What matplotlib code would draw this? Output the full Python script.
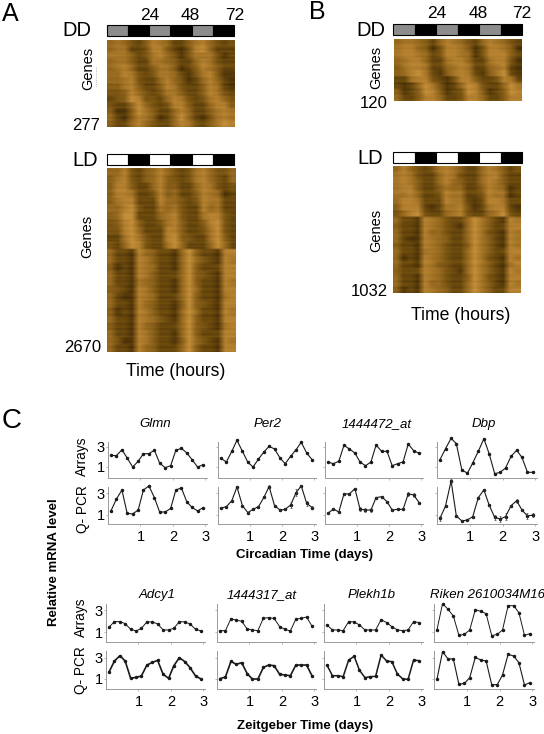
import numpy as np
import matplotlib
matplotlib.use("Agg")
import matplotlib.pyplot as plt
from matplotlib.colors import LinearSegmentedColormap
from matplotlib.lines import Line2D

plt.rcParams['font.family'] = ['Liberation Sans', 'DejaVu Sans']

W, H = 544, 734

# time of each sample, in days
DAYS = [0.09, 0.26, 0.43, 0.59, 0.76, 0.93, 1.09, 1.26, 1.43, 1.59, 1.76, 1.93,
        2.09, 2.26, 2.43, 2.59, 2.76, 2.93]

# circadian, arrays
GLMN_ARR = [2.17, 2.13, 2.73, 1.9, 1.0, 1.57, 2.33, 2.33, 2.67, 1.4, 0.93, 1.13, 2.67, 2.87, 2.4, 1.73, 1.0, 1.23]
PER2_ARR = [1.87, 1.5, 2.57, 3.67, 2.57, 1.47, 1.0, 1.8, 2.5, 3.07, 2.8, 1.9, 1.33, 2.07, 2.73, 3.47, 2.4, 1.73]
AT472_ARR = [1.5, 1.33, 1.57, 3.17, 2.8, 2.4, 1.5, 1.13, 1.5, 3.2, 2.57, 2.57, 1.13, 1.33, 1.5, 3.3, 2.63, 2.37]
DBP_ARR = [1.73, 2.83, 3.87, 3.33, 0.67, 0.4, 1.4, 2.57, 3.83, 2.33, 0.33, 0.47, 0.9, 2.07, 2.67, 1.97, 0.47, 0.47]

# circadian, Q-PCR
GLMN_PCR = [1.37, 2.48, 3.3, 1.15, 1.1, 1.46, 3.3, 3.68, 2.6, 1.28, 1.28, 1.6, 3.3, 3.5, 2.2, 1.7, 1.37, 1.68]
PER2_PCR = [1.62, 1.77, 2.32, 3.58, 1.86, 1.22, 1.52, 1.77, 2.63, 3.62, 1.86, 1.46, 1.52, 1.92, 3.06, 3.68, 2.08, 1.68]
AT472_PCR = [1.15, 1.55, 1.28, 2.94, 2.94, 3.43, 1.55, 1.46, 1.46, 2.6, 2.69, 2.23, 1.46, 1.52, 1.52, 2.94, 2.85, 2.14]
DBP_PCR = [0.69, 1.83, 4.14, 0.91, 0.45, 0.54, 0.85, 2.6, 3.31, 1.92, 0.78, 0.63, 0.85, 1.86, 2.32, 1.46, 0.91, 1.0]

# error bars that can be made out on the Q-PCR curves
PER2_ERR = [0.1, 0.05, 0.05, 0.1, 0.1, 0.05, 0.05, 0.1, 0.1, 0.1, 0.05, 0.05, 0.1, 0.25, 0.3, 0.1, 0.25, 0.15]
AT472_ERR = [0.05, 0.1, 0.05, 0.1, 0.1, 0.1, 0.15, 0.15, 0.15, 0.1, 0.1, 0.1, 0.1, 0.1, 0.1, 0.2, 0.2, 0.1]
DBP_ERR = [0.25, 0.1, 0.15, 0.1, 0.05, 0.05, 0.1, 0.1, 0.1, 0.1, 0.2, 0.25, 0.3, 0.1, 0.2, 0.1, 0.25, 0.15]

# zeitgeber, arrays
ADCY1_ARR = [1.45, 1.96, 1.96, 1.78, 1.27, 1.12, 1.36, 1.93, 1.93, 1.75, 1.21, 1.21, 1.36, 1.96, 1.93, 1.75, 1.27, 1.12]
AT317_ARR = [1.15, 1.15, 2.22, 2.1, 1.99, 1.3, 1.21, 1.15, 2.28, 2.31, 2.25, 1.51, 1.27, 1.12, 2.19, 2.25, 2.37, 1.54]
PLEKH_ARR = [1.66, 1.21, 1.21, 1.15, 1.96, 1.93, 1.66, 1.21, 1.21, 1.21, 2.13, 1.87, 1.51, 1.21, 1.15, 1.21, 1.96, 1.87]
RIKEN_ARR = [1.21, 3.57, 3.06, 2.46, 0.73, 0.82, 1.21, 3.03, 2.88, 2.67, 0.7, 0.82, 1.21, 3.39, 3.39, 2.76, 0.73, 0.88]

# zeitgeber, Q-PCR
ADCY1_PCR = [1.63, 2.69, 3.19, 2.69, 1.06, 1.16, 1.28, 2.31, 2.56, 2.75, 1.44, 1.06, 2.25, 3.0, 2.63, 2.06, 1.28, 1.0]
AT317_PCR = [1.03, 1.19, 2.66, 2.38, 2.53, 1.5, 1.0, 1.0, 2.09, 2.31, 2.25, 1.44, 1.38, 1.31, 2.31, 2.31, 2.31, 1.28]
PLEKH_PCR = [2.31, 1.31, 1.31, 1.22, 2.78, 3.13, 1.84, 1.13, 1.22, 1.25, 3.25, 2.69, 2.63, 1.47, 1.0, 0.97, 2.78, 2.72]
RIKEN_PCR = [0.97, 3.56, 2.88, 2.88, 0.5, 0.59, 1.13, 3.03, 2.78, 2.69, 0.47, 0.47, 1.38, 3.31, 3.16, 2.53, 0.44, 0.66]

# heat maps: one string per block of genes, one digit per sample (0 dark, 9 light)
A_DD = ["565324765224675323", "566223774213785222", "666423675313666312", "566422665422576322",
        "567522466412476422", "557632366521367411", "556732257531257521", "446742247632247621",
        "334753236642247632", "234873325763236753", "322585323774225774", "411486422575224676",
        "521476412585213676", "422575322576324687"]
A_LD = ["557324575323675335", "467324574323675325", "477422574422576323", "477622374522476512",
        "467722275532376622", "557832265632275622", "458822256732267732", "347842236742247832",
        "337852227742236832", "226863227843226842", "325873226852225852",
        "522175422158422177", "522176422158532176", "412176522158422277", "522176422258432177",
        "522165422158422176", "432176422158522177", "521176522258422167", "522175422148432177",
        "412176422158522176", "522176532158422177", "422175422258432167", "522176422158422277",
        "531176422148532176", "522175422258422177"]
B_DD = ["566542576532576532", "677541377641377641", "677652377651377742", "567752267752267731",
        "467762256762256721", "457862146762146821", "226773213774223762", "212586312587322586",
        "412487412387412487", "522477522377522477"]
B_LD = ["575323676422576423", "676322576322577422", "676422575422576422", "677422465522476512",
        "667522376622376612", "577622276621277622", "477721266731267721", "357832256732256832",
        "522176532258642176", "422176532158642277", "522175532258632176", "521176542258642176",
        "422176532248642176", "522166532258642277", "512176532258632176", "522176432258642167",
        "422276532158642176", "522176532248632177", "522175532258642176", "412176542258642277"]

# row by row shading of the fine horizontal streaks, same digit scale
STREAK = [0.0, -0.4, 0.3, 0.1, -0.6, 0.3, -0.1, 0.4, -0.3, 0.1, -0.5, 0.2, 0.5, -0.2, -0.5, 0.3,
          0.0, 0.4, -0.3, -0.1, 0.3, -0.6, 0.2, 0.1, -0.4, 0.5, -0.1, 0.1, -0.3, 0.3, 0.0, -0.5, 0.3]

BAR_HOURS = [0, 12, 24, 36, 48, 60]
HOUR_TICKS = ["24", "48", "72"]

heat_cmap = LinearSegmentedColormap.from_list(
    "heat", ["#3c2604", "#73500f", "#96691f", "#bb8634", "#dba648"])


def px_axes(left, top, right, bottom):
    return fig.add_axes([left / W, 1 - bottom / H, (right - left) / W, (bottom - top) / H])


def label(x, y, s, **kw):
    fig.text(x / W, 1 - y / H, s, ha=kw.pop('ha', 'center'), va='center', **kw)


def heatmap(box, rows, repeat):
    ax = px_axes(*box)
    data = np.repeat(np.array([[int(c) for c in r] for r in rows], dtype=float), repeat, axis=0)
    shade = np.resize(STREAK, data.shape[0])
    ax.imshow(data + shade[:, None], cmap=heat_cmap, vmin=0, vmax=10, aspect='auto',
              interpolation='bilinear')
    ax.axis('off')


def light_bar(box, first):
    ax = px_axes(*box)
    colors = [first, 'black'] * 3
    ax.bar(BAR_HOURS, [1] * 6, width=12, align='edge', color=colors, edgecolor='black',
           linewidth=0.8, clip_on=False)
    ax.set_xlim(0, 72)
    ax.set_ylim(0, 1)
    ax.axis('off')


def small_panel(box, values, ylim, show_y, show_x, lw=0.8, err=None):
    ax = px_axes(*box)
    ax.plot(DAYS, values, color='#1a1a1a', lw=lw, marker='o', ms=1.5, clip_on=False)
    if err is not None:
        ax.errorbar(DAYS, values, yerr=err, fmt='none', ecolor='#333333', elinewidth=0.5,
                    capsize=0.8, capthick=0.4, clip_on=False)
    ax.set_xlim(0, 3.05)
    ax.set_ylim(*ylim)
    for side in ['top', 'right']:
        ax.spines[side].set_visible(False)
    for side in ['left', 'bottom']:
        ax.spines[side].set_color('#999999')
        ax.spines[side].set_linewidth(0.7)
    ax.set_yticks([1, 3])
    ax.set_yticklabels(['1', '3'] if show_y else [])
    ax.set_xticks([1, 2, 3])
    ax.set_xticklabels(['1', '2', '3'] if show_x else [])
    ax.tick_params(axis='x', length=1.5, width=0.5, color='#999999', labelsize=10.5, pad=2.5)
    ax.tick_params(axis='y', length=1.5, width=0.5, color='#999999', labelsize=10.5, pad=1)
    return ax


fig = plt.figure(figsize=(W / 100, H / 100), dpi=100)

# panels A and B
label(2, 14, "A", fontsize=18, ha='left')
label(309, 12, "B", fontsize=18, ha='left')
label(2, 421, "C", fontsize=20, ha='left')

light_bar((107, 25, 234, 36), '#8c8c8c')
heatmap((107, 40, 235, 127), A_DD, 3)
light_bar((107, 154, 234, 165), 'white')
heatmap((107, 168, 236, 352), A_LD, 4)
light_bar((393, 24, 522, 35), '#8c8c8c')
heatmap((394, 39, 522, 101), B_DD, 3)
light_bar((393, 152, 522, 163), 'white')
heatmap((393, 166, 521, 293), B_LD, 3)

label(77, 30, "DD", fontsize=14.5)
label(85, 160, "LD", fontsize=14.5)
label(371, 30, "DD", fontsize=14.5)
label(370, 158, "LD", fontsize=14.5)

for x, s in zip([150, 190, 235], HOUR_TICKS):
    label(x, 15, s, fontsize=12.5)
for x, s in zip([437, 478, 522], HOUR_TICKS):
    label(x, 13, s, fontsize=12.5)

label(100, 125, "277", fontsize=12, ha='right')
label(101, 348, "2670", fontsize=12, ha='right')
label(388, 103, "120", fontsize=12, ha='right')
label(388, 291, "1032", fontsize=12, ha='right')

label(88, 68, "Genes", fontsize=10.5, rotation=90)
fig.add_artist(Line2D([96 / W, 96 / W], [1 - 67 / H, 1 - 87 / H], color='#888888', lw=0.5, ls=':'))
label(87, 236, "Genes", fontsize=10.5, rotation=90)
label(376, 67, "Genes", fontsize=10.5, rotation=90)
label(376, 230, "Genes", fontsize=10.5, rotation=90)
label(176, 371, "Time (hours)", fontsize=12.7)
label(461, 315, "Time (hours)", fontsize=12.7)

# panel C
TOP_COLS = [(108, 207), (218, 316), (325, 423), (437, 537)]
BOT_COLS = [(106, 205), (217, 316), (324, 423), (434, 534)]
top_arr = [GLMN_ARR, PER2_ARR, AT472_ARR, DBP_ARR]
top_pcr = [GLMN_PCR, PER2_PCR, AT472_PCR, DBP_PCR]
top_err = [None, PER2_ERR, AT472_ERR, DBP_ERR]
bot_arr = [ADCY1_ARR, AT317_ARR, PLEKH_ARR, RIKEN_ARR]
bot_pcr = [ADCY1_PCR, AT317_PCR, PLEKH_PCR, RIKEN_PCR]
bot_lw = [1.2, 1.2, 1.1, 0.8]

for i in range(4):
    l, r = TOP_COLS[i]
    small_panel((l, 442, r, 478), top_arr[i], (-0.1, 3.5), i == 0, False)
    small_panel((l, 487, r, 524), top_pcr[i], (0.17, 3.58), i == 0, True, err=top_err[i])
    l, r = BOT_COLS[i]
    small_panel((l, 604, r, 642), bot_arr[i], (0.13, 3.54), i == 0, False, lw=0.7)
    small_panel((l, 651, r, 689), bot_pcr[i], (0.06, 3.63), i == 0, True, lw=bot_lw[i])

for x, s in zip([155, 268, 377, 484], ["Glmn", "Per2", "1444472_at", "Dbp"]):
    label(x, 424, s, fontsize=9.5, style='italic')
for x, s in zip([157, 262, 372, 487], ["Adcy1", "1444317_at", "Plekh1b", "Riken 2610034M16"]):
    label(x, 595, s, fontsize=9.5, style='italic')

label(82, 456, "Arrays", fontsize=9.8, rotation=90)
label(83, 509, "Q- PCR", fontsize=9.8, rotation=90)
label(81, 617, "Arrays", fontsize=9.8, rotation=90)
label(81, 670, "Q- PCR", fontsize=9.8, rotation=90)

label(305, 555, "Circadian Time (days)", fontsize=9.5, fontweight='bold')
label(305, 726, "Zeitgeber Time (days)", fontsize=9.5, fontweight='bold')
label(54, 562, "Relative mRNA level", fontsize=9.5, fontweight='bold', rotation=90)

fig.savefig("out.png", dpi=100)
